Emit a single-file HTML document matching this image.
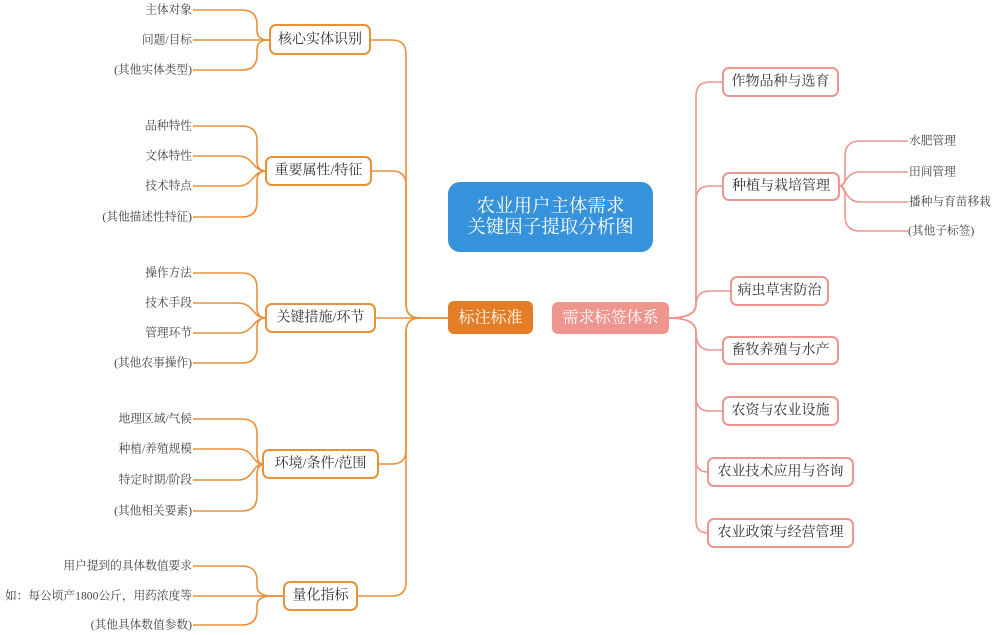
<!DOCTYPE html>
<html><head><meta charset="utf-8">
<style>
html,body{margin:0;padding:0;background:#fff;}
svg{display:block;}
text{font-family:"Liberation Serif","Noto Serif CJK SC",serif;}
.lf{font-size:11.7px;fill:#444;dominant-baseline:central;}
.nd{font-size:14px;fill:#333;dominant-baseline:central;text-anchor:middle;}
.ol{fill:none;stroke:#E8913B;stroke-width:1.6;}
.pl{fill:none;stroke:#EC968F;stroke-width:1.6;}
.on{fill:#fff;stroke:#E8913B;stroke-width:2;}
.pn{fill:#fff;stroke:#EC968F;stroke-width:2;}
</style></head>
<body>
<svg width="997" height="635" viewBox="0 0 997 635" xmlns="http://www.w3.org/2000/svg">
<g class="ol">
<path d="M193,10 L242,10 Q257,10 257,25 L257,30 Q257,40 268,40 L270,40"/>
<path d="M193,40 L270,40"/>
<path d="M193,70 L242,70 Q257,70 257,55 L257,50 Q257,40 268,40 L270,40"/>
<path d="M193,126 L242,126 Q257,126 257,141 L257,161 Q257,171 266,171"/>
<path d="M193,156 L238,156 C254,156 252,171 266,171"/>
<path d="M193,186 L238,186 C254,186 252,171 266,171"/>
<path d="M193,217 L242,217 Q257,217 257,202 L257,181 Q257,171 266,171"/>
<path d="M193,273 L242,273 Q257,273 257,288 L257,308 Q257,318 266,318"/>
<path d="M193,303 L238,303 C254,303 252,318 266,318"/>
<path d="M193,333 L238,333 C254,333 252,318 266,318"/>
<path d="M193,363 L242,363 Q257,363 257,348 L257,328 Q257,318 266,318"/>
<path d="M193,419 L242,419 Q257,419 257,434 L257,454 Q257,464 263,464"/>
<path d="M193,449 L238,449 C254,449 252,464 263,464"/>
<path d="M193,480 L238,480 C254,480 252,464 263,464"/>
<path d="M193,511 L242,511 Q257,511 257,496 L257,474 Q257,464 266,464"/>
<path d="M193,566 L242,566 Q257,566 257,581 L257,586 Q257,596 272,596 L284,596"/>
<path d="M193,596 L284,596"/>
<path d="M193,625 L242,625 Q257,625 257,610 L257,606 Q257,596 272,596 L284,596"/>
<path d="M370,40 L392,40 Q406,40 406,54 L406,304 Q406,318 420,318 L448,318"/>
<path d="M371,171 L392,171 Q406,171 406,185 L406,304 Q406,318 420,318"/>
<path d="M375,318 L448,318"/>
<path d="M378,464 L392,464 Q406,464 406,450 L406,332 Q406,318 420,318"/>
<path d="M357,596 L392,596 Q406,596 406,582 L406,332 Q406,318 420,318 L448,318"/>
</g>

<g class="pl">
<path d="M669,318 Q696,318 696,304 L696,96 Q696,82 710,82 L723,82"/>
<path d="M669,318 Q696,318 696,304 L696,200 Q696,186 710,186 L723,186"/>
<path d="M669,318 Q696,318 696,305 Q696,291 710,291 L731,291"/>
<path d="M669,318 Q696,318 696,332 Q696,350 710,350 L723,350"/>
<path d="M669,318 Q696,318 696,332 L696,397 Q696,411 710,411 L723,411"/>
<path d="M669,318 Q696,318 696,332 L696,460 C696,468 700,472 708,472"/>
<path d="M669,318 Q696,318 696,332 L696,521 C696,529 700,533 708,533"/>
<path d="M839,186 Q845,186 845,178 L845,156 Q845,141 860,141 L908,141"/>
<path d="M839,186 C846,186 845,172 860,172 L908,172"/>
<path d="M839,186 C846,186 845,202 860,202 L908,202"/>
<path d="M839,186 Q845,186 845,194 L845,216 Q845,231 860,231 L908,231"/>
</g>

<rect class="on" x="270" y="25" width="100" height="29" rx="6"/>
<text class="nd" x="320" y="40">核心实体识别</text>
<rect class="on" x="266" y="157" width="105" height="28" rx="6"/>
<text class="nd" x="318.5" y="171">重要属性/特征</text>
<rect class="on" x="266" y="304" width="109" height="28" rx="6"/>
<text class="nd" x="320.5" y="318">关键措施/环节</text>
<rect class="on" x="263" y="450" width="115" height="28" rx="6"/>
<text class="nd" x="320.5" y="464">环境/条件/范围</text>
<rect class="on" x="284" y="582" width="73" height="28" rx="6"/>
<text class="nd" x="320.5" y="596">量化指标</text>

<g class="lf" text-anchor="end">
<text x="192" y="10">主体对象</text>
<text x="192" y="40">问题/目标</text>
<text x="192" y="70">(其他实体类型)</text>
<text x="192" y="126">品种特性</text>
<text x="192" y="156">文体特性</text>
<text x="192" y="186">技术特点</text>
<text x="192" y="217">(其他描述性特征)</text>
<text x="192" y="273">操作方法</text>
<text x="192" y="303">技术手段</text>
<text x="192" y="333">管理环节</text>
<text x="192" y="363">(其他农事操作)</text>
<text x="192" y="419">地理区域/气候</text>
<text x="192" y="449">种植/养殖规模</text>
<text x="192" y="480">特定时期/阶段</text>
<text x="192" y="511">(其他相关要素)</text>
<text x="192" y="566">用户提到的具体数值要求</text>
<text x="192" y="596">如：每公顷产1800公斤，用药浓度等</text>
<text x="192" y="625">(其他具体数值参数)</text>
</g>

<rect x="448" y="182" width="205" height="70" rx="12" fill="#3592DB"/>
<text x="550.5" y="207" font-size="18.5" fill="#fff" text-anchor="middle" dominant-baseline="central">农业用户主体需求</text>
<text x="550.5" y="228" font-size="18.5" fill="#fff" text-anchor="middle" dominant-baseline="central">关键因子提取分析图</text>

<rect x="448" y="301" width="85" height="33" rx="6" fill="#E47E26"/>
<text x="490.5" y="318" font-size="16" fill="#fff" text-anchor="middle" dominant-baseline="central">标注标准</text>
<rect x="552" y="302" width="117" height="32" rx="6" fill="#EE968E"/>
<text x="610.5" y="318" font-size="16" fill="#fff" text-anchor="middle" dominant-baseline="central">需求标签体系</text>

<rect class="pn" x="723" y="68" width="115" height="28" rx="6"/>
<text class="nd" x="780.5" y="82">作物品种与选育</text>
<rect class="pn" x="723" y="173" width="116" height="27" rx="6"/>
<text class="nd" x="781" y="186.5">种植与栽培管理</text>
<rect class="pn" x="731" y="277" width="97" height="28" rx="6"/>
<text class="nd" x="779.5" y="291">病虫草害防治</text>
<rect class="pn" x="723" y="337" width="115" height="27" rx="6"/>
<text class="nd" x="780.5" y="350.5">畜牧养殖与水产</text>
<rect class="pn" x="723" y="397" width="115" height="28" rx="6"/>
<text class="nd" x="780.5" y="411">农资与农业设施</text>
<rect class="pn" x="708" y="458" width="145" height="28" rx="6"/>
<text class="nd" x="780.5" y="472">农业技术应用与咨询</text>
<rect class="pn" x="708" y="519" width="145" height="28" rx="6"/>
<text class="nd" x="780.5" y="533">农业政策与经营管理</text>

<g class="lf" text-anchor="start">
<text x="909" y="141">水肥管理</text>
<text x="909" y="172">田间管理</text>
<text x="909" y="202">播种与育苗移栽</text>
<text x="908" y="231">(其他子标签)</text>
</g>
</svg>
</body></html>
